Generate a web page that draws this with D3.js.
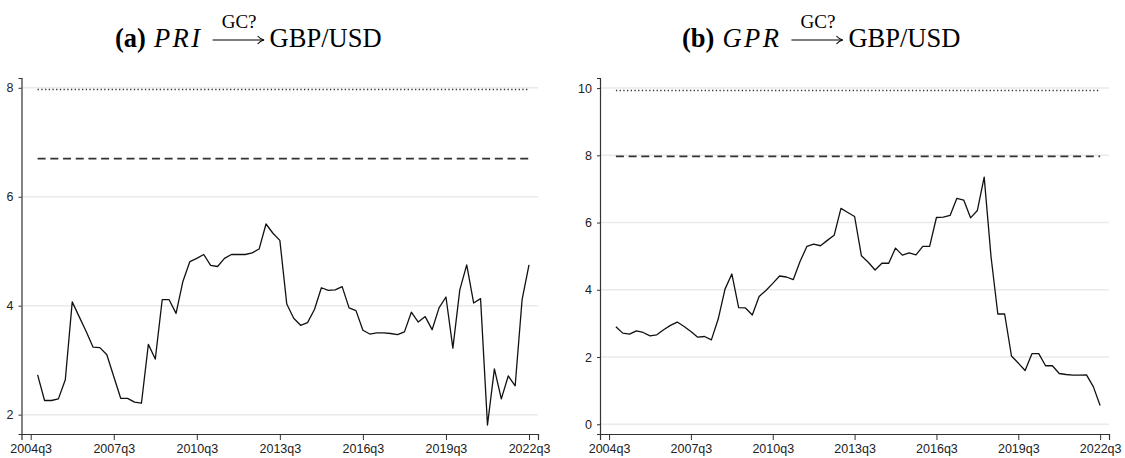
<!DOCTYPE html>
<html><head><meta charset="utf-8">
<script src="https://cdn.jsdelivr.net/npm/d3@7"></script>
<style>body{margin:0;background:#fff}svg{display:block}</style>
</head><body>
<svg id="c" width="1125" height="458"></svg>
<script>
// Quarter index 0 = 2004q3; data run from 2004q4 (index 1) to 2022q3 (index 72)
const tickLabels = ["2004q3","2007q3","2010q3","2013q3","2016q3","2019q3","2022q3"];
const tickIndex = [0,12,24,36,48,60,72];
const startIndex = 1;
const priValues = [2.73,2.26,2.26,2.29,2.64,4.07,3.80,3.53,3.24,3.23,3.10,2.70,2.30,2.30,2.23,2.21,3.29,3.02,4.11,4.11,3.86,4.45,4.81,4.87,4.94,4.74,4.72,4.87,4.94,4.94,4.94,4.97,5.04,5.50,5.33,5.20,4.03,3.77,3.64,3.69,3.93,4.33,4.28,4.29,4.35,3.96,3.91,3.55,3.48,3.50,3.50,3.49,3.47,3.52,3.88,3.70,3.80,3.56,3.96,4.16,3.22,4.29,4.75,4.05,4.13,1.81,2.84,2.29,2.71,2.53,4.11,4.75];
const gprValues = [2.90,2.71,2.68,2.78,2.73,2.63,2.66,2.81,2.94,3.04,2.91,2.76,2.59,2.61,2.51,3.13,4.02,4.47,3.47,3.46,3.25,3.80,3.98,4.19,4.41,4.38,4.30,4.84,5.29,5.36,5.31,5.47,5.62,6.42,6.30,6.18,5.01,4.82,4.59,4.79,4.79,5.24,5.03,5.10,5.04,5.29,5.29,6.15,6.16,6.21,6.72,6.67,6.14,6.36,7.35,4.99,3.28,3.28,2.03,1.82,1.60,2.10,2.10,1.74,1.74,1.51,1.48,1.46,1.46,1.47,1.12,0.56];
const priTicks = [2,4,6,8];
const gprTicks = [0,2,4,6,8,10];
const priCrit = [7.97, 6.70];   // dotted, dashed
const gprCrit = [9.93, 7.97];

const svg = d3.select("#c");

function panel(cfg){
  const g = svg.append("g");
  const x = d3.scaleLinear().domain([-1.33, 73.3]).range([cfg.left, cfg.right]);
  const y = d3.scaleLinear().domain(cfg.ydom).range([434, 78]);
  // gridlines
  g.selectAll(".grid").data(cfg.yticks).join("line")
    .attr("x1", cfg.left).attr("x2", cfg.right)
    .attr("y1", d=>y(d)).attr("y2", d=>y(d))
    .attr("stroke", "#eaeaea").attr("stroke-width", 1.5);
  // y axis
  const ya = g.append("g").attr("transform", `translate(${cfg.left},0)`)
    .call(d3.axisLeft(y).tickValues(cfg.yticks).tickSize(3).tickPadding(5).tickFormat(d3.format("d")));
  // x axis
  const xa = g.append("g").attr("transform", `translate(0,434)`)
    .call(d3.axisBottom(x).tickValues(tickIndex).tickSize(6).tickPadding(4)
      .tickFormat((d,i)=>tickLabels[i]));
  [ya, xa].forEach(a=>{
    a.attr("font-family", "Liberation Sans, Arial, sans-serif").attr("font-size", 12.5);
    a.select(".domain").attr("stroke", "#333").attr("stroke-width", 1.2);
    a.selectAll(".tick line").attr("stroke", "#333");
    a.selectAll("text").attr("fill", "#222");
  });
  // critical value lines
  const x0 = x(startIndex), x1 = x(startIndex + cfg.values.length - 1);
  g.append("line").attr("x1", x0).attr("x2", x1)
    .attr("y1", y(cfg.crit[0])).attr("y2", y(cfg.crit[0]))
    .attr("stroke", "#333").attr("stroke-width", 1.4).attr("stroke-dasharray", "1.3,2.4");
  g.append("line").attr("x1", x0).attr("x2", x1)
    .attr("y1", y(cfg.crit[1])).attr("y2", y(cfg.crit[1]))
    .attr("stroke", "#333").attr("stroke-width", 1.6).attr("stroke-dasharray", "8,4.7");
  // data line
  const line = d3.line().x((d,i)=>x(startIndex+i)).y(d=>y(d));
  g.append("path").datum(cfg.values).attr("d", line)
    .attr("fill", "none").attr("stroke", "#111").attr("stroke-width", 1.3)
    .attr("stroke-linejoin", "round");
}

panel({left:21.5, right:538, ydom:[1.645, 8.18], yticks:priTicks, values:priValues, crit:priCrit});
panel({left:600, right:1109, ydom:[-0.29, 10.3], yticks:gprTicks, values:gprValues, crit:gprCrit});

function title(x0, label, sym){
  const g = svg.append("g").attr("font-family", "Liberation Serif, Times New Roman, serif").attr("fill", "#000");
  const base = 47;
  const t1 = g.append("text").attr("x", x0).attr("y", base).attr("font-size", 26.5)
    .attr("font-weight", "bold").text(label);
  let cx = x0 + t1.node().getComputedTextLength() + 8;
  const t2 = g.append("text").attr("x", cx).attr("y", base).attr("font-size", 26.5)
    .attr("font-style", "italic").attr("letter-spacing", 2.5).text(sym);
  cx += t2.node().getComputedTextLength() + 10;
  const aw = 51, ay = 40;
  g.append("line").attr("x1", cx).attr("x2", cx+aw).attr("y1", ay).attr("y2", ay)
    .attr("stroke", "#000").attr("stroke-width", 1.1);
  g.append("path").attr("d", `M${cx+aw-6},${ay-4} Q${cx+aw-3},${ay-0.5} ${cx+aw+0.5},${ay} Q${cx+aw-3},${ay+0.5} ${cx+aw-6},${ay+4}`)
    .attr("fill", "none").attr("stroke", "#000").attr("stroke-width", 1.1);
  g.append("text").attr("x", cx+aw/2+1).attr("y", 28).attr("font-size", 19)
    .attr("text-anchor", "middle").text("GC?");
  cx += aw + 6;
  g.append("text").attr("x", cx).attr("y", base).attr("font-size", 26.5).text("GBP/USD");
}
title(115, "(a)", "PRI");
title(682, "(b)", "GPR");
</script>
</body></html>
